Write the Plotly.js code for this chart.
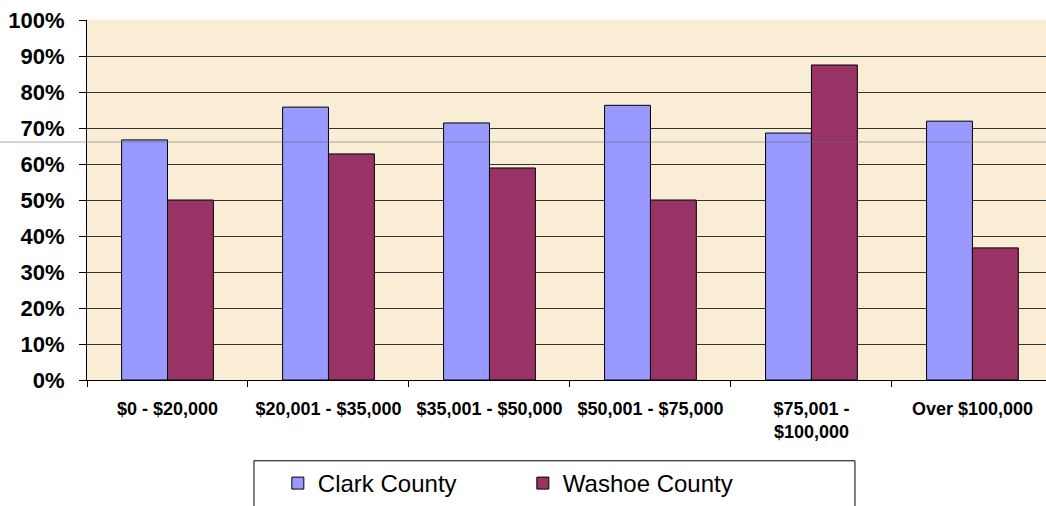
<!DOCTYPE html>
<html>
<head>
<meta charset="utf-8">
<script src="https://cdn.plot.ly/plotly-3.0.1.min.js"></script>
<style>html,body{margin:0;padding:0;background:#fff;}#chart{width:1046px;height:506px;}</style>
</head>
<body>
<div id="chart"></div>
<script>
const categories = ["$0 - $20,000", "$20,001 - $35,000", "$35,001 - $50,000", "$50,001 - $75,000", "$75,001 -<br>$100,000", "Over $100,000"];
const clarkValues = [0.667, 0.758, 0.714, 0.763, 0.686, 0.719];
const washoeValues = [0.50, 0.628, 0.589, 0.50, 0.875, 0.367];
const seriesNames = ["Clark County", "Washoe County"];
const yTickVals = [0, 0.1, 0.2, 0.3, 0.4, 0.5, 0.6, 0.7, 0.8, 0.9, 1.0];

const font = "Liberation Sans, Arial, sans-serif";
const traces = [
  {type: "bar", name: seriesNames[0], x: categories, y: clarkValues,
   marker: {color: "#9999FF", line: {color: "#000", width: 1}}, hoverinfo: "y"},
  {type: "bar", name: seriesNames[1], x: categories, y: washoeValues,
   marker: {color: "#993366", line: {color: "#000", width: 1}}, hoverinfo: "y"}
];
const layout = {
  width: 1046, height: 506,
  margin: {l: 87, r: 0, t: 20, b: 125},
  paper_bgcolor: "#ffffff",
  plot_bgcolor: "#FAEDD6",
  barmode: "group", bargap: 0.43, bargroupgap: 0,
  font: {family: font, color: "#000"},
  xaxis: {
    type: "category", range: [-0.5, 5.457],
    showline: true, linecolor: "#000", linewidth: 1,
    ticks: "outside", tickson: "boundaries", ticklen: 6, tickcolor: "#000",
    ticklabelstandoff: 12,
    tickfont: {family: font, size: 18, weight: "bold"},
    showgrid: false, fixedrange: true
  },
  yaxis: {
    range: [0, 1], tickvals: yTickVals, tickformat: ".0%",
    showline: true, linecolor: "#000", linewidth: 1,
    ticks: "outside", ticklen: 7, tickcolor: "#000",
    ticklabelstandoff: 10,
    tickfont: {family: font, size: 22, weight: "bold"},
    showgrid: true, gridcolor: "#333", gridwidth: 1,
    zeroline: false, fixedrange: true
  },
  showlegend: true,
  legend: {
    orientation: "h", x: 0.199, xanchor: "left", y: -0.225, yanchor: "top",
    bgcolor: "rgba(0,0,0,0)", borderwidth: 0,
    font: {family: font, size: 24, color: "#000"},
    entrywidth: 200, entrywidthmode: "pixels"
  },
  shapes: [
    {type: "rect", xref: "paper", yref: "paper", x0: 0.1741, x1: 0.8008, y0: -0.2244, y1: -0.40,
     line: {color: "#000", width: 1}, fillcolor: "rgba(0,0,0,0)"},
    {type: "line", xref: "paper", yref: "y", x0: -0.0907, x1: 1, y0: 0.661, y1: 0.661,
     line: {color: "rgba(110,110,110,0.6)", width: 1}, layer: "above"}
  ]
};
Plotly.newPlot("chart", traces, layout, {displayModeBar: false, staticPlot: true});
</script>
</body>
</html>
